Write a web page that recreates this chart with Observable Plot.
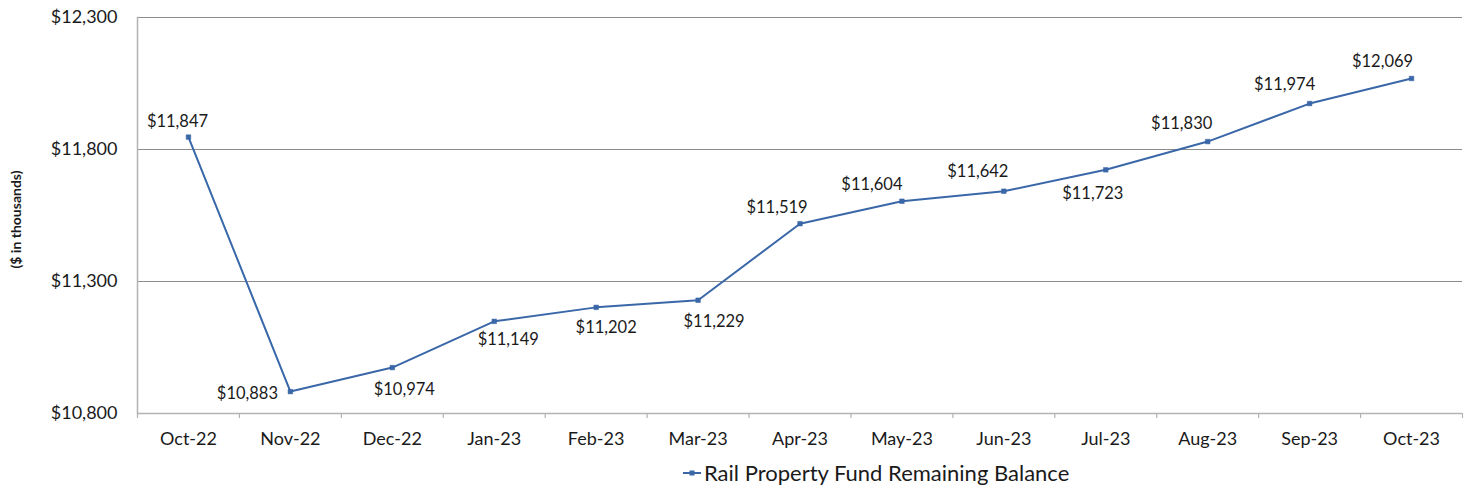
<!DOCTYPE html>
<html>
<head>
<meta charset="utf-8">
<script src="https://cdn.jsdelivr.net/npm/d3@7"></script>
<script src="https://cdn.jsdelivr.net/npm/@observablehq/plot@0.6"></script>
<style>
  html, body { margin: 0; padding: 0; background: #fff; }
  #wrap { position: relative; width: 1468px; height: 490px; overflow: hidden; font-family: Lato, "Open Sans", sans-serif; color: #1a1a1a; }
  #title { position: absolute; top: -22px; left: 605px; font-size: 24px; font-weight: bold; line-height: 24px; white-space: nowrap; }
  #chart { position: absolute; top: 0; left: 0; }
  #legend { position: absolute; left: 682px; top: 460px; font-size: 22px; line-height: 26px; white-space: nowrap; display: flex; align-items: center; }
  #legend svg { margin-right: 2px; }
</style>
</head>
<body>
<div id="wrap">
  <div id="title">Rail Property Fund</div>
  <div id="chart"></div>
  <div id="legend"></div>
</div>
<script>
const months = ["Oct-22","Nov-22","Dec-22","Jan-23","Feb-23","Mar-23","Apr-23","May-23","Jun-23","Jul-23","Aug-23","Sep-23","Oct-23"];
const balances = [11847, 10883, 10974, 11149, 11202, 11229, 11519, 11604, 11642, 11723, 11830, 11974, 12069];
const yTicks = [10800, 11300, 11800, 12300];
const gridValues = [11300, 11800, 12300];
const seriesName = "Rail Property Fund Remaining Balance";
const axisLabel = "($ in thousands)";
// label offsets (dx, dy) relative to each point, styling only
const labelOffsets = [[-11,-15],[-43,2],[12,22],[14,18],[10,20],[16,21],[-23,-16],[-30,-17],[-26,-19],[-13,24],[-26,-18],[-25,-19],[-29,-17]];

const lineColor = "#3a67a8";
const W = 1468, H = 450;
const mL = 137, mR = 6, mT = 17, mB = 37;
const step = (W - mL - mR) / months.length;

const data = months.map((m, i) => ({month: m, value: balances[i], dx: labelOffsets[i][0], dy: labelOffsets[i][1]}));
const fmt = d => "$" + d3.format(",")(d);

const chart = Plot.plot({
  width: W, height: H,
  marginLeft: mL, marginRight: mR, marginTop: mT, marginBottom: mB,
  style: {fontFamily: "Lato, 'Open Sans', sans-serif", fontSize: "16px", color: "#1a1a1a", background: "#fff"},
  x: {type: "point", domain: months, padding: 0.5, round: false, label: null},
  y: {domain: [10800, 12300], label: null},
  marks: [
    Plot.ruleY(gridValues, {stroke: "#8c8c8c", strokeWidth: 1}),
    Plot.ruleY([10800], {stroke: "#b3b3b3", strokeWidth: 1.5}),
    Plot.frame({anchor: "left", stroke: "#b3b3b3", strokeWidth: 1.5}),
    Plot.ruleX(months, {x: d => d, y1: 10800, y2: 10800, insetBottom: -5, dx: -step / 2, stroke: "#b3b3b3", strokeWidth: 1.2}),
    Plot.ruleX([months[months.length - 1]], {x: d => d, y1: 10800, y2: 10800, insetBottom: -5, dx: step / 2, stroke: "#b3b3b3", strokeWidth: 1.2}),
    Plot.axisY({ticks: yTicks, tickSize: 0, tickPadding: 20, tickFormat: fmt, fontSize: 18}),
    Plot.axisX({tickSize: 0, tickPadding: 19, fontSize: 18}),
    Plot.text([axisLabel], {frameAnchor: "left", dx: -121, dy: 53, rotate: -90, fontWeight: "bold", fontSize: 14}),
    Plot.line(data, {x: "month", y: "value", stroke: lineColor, strokeWidth: 2}),
    Plot.dot(data, {x: "month", y: "value", symbol: "square", r: 2.6, fill: lineColor, stroke: lineColor, strokeWidth: 0.5}),
    ...data.map(d => Plot.text([d], {x: "month", y: "value", text: d => fmt(d.value), dx: d.dx, dy: d.dy, fontSize: 16.5, fill: "#1a1a1a"}))
  ]
});
document.getElementById("chart").appendChild(chart);

const legend = document.getElementById("legend");
legend.innerHTML = `<svg width="20" height="10"><line x1="1" y1="5" x2="19" y2="5" stroke="${lineColor}" stroke-width="2"/><rect x="7.5" y="2.5" width="5" height="5" fill="${lineColor}"/></svg><span>${seriesName}</span>`;
</script>
</body>
</html>
